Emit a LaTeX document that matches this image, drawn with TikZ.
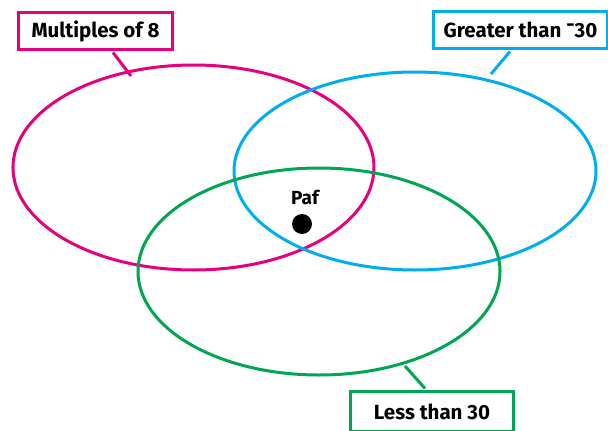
\documentclass[tikz,border=0pt]{standalone}
\usepackage{fontspec}
\setmainfont{Fira Sans}
\definecolor{vpink}{HTML}{E6007E}
\definecolor{vblue}{HTML}{00AEEF}
\definecolor{vgreen}{HTML}{00A651}
\begin{document}
\begin{tikzpicture}[x=1pt,y=-1pt,
  set/.style={line width=3pt},
  lab/.style={draw, line width=3pt, inner sep=0pt, font=\fontsize{20.5}{24}\selectfont\bfseries, anchor=north west},
  conn/.style={line width=3pt}]
\useasboundingbox[fill=white] (0,0) rectangle (608,431);
\draw[set, vpink] (193.5,167.5) ellipse [x radius=180.5, y radius=102.5];
\draw[set, vblue] (415,171) ellipse [x radius=181, y radius=99];
\draw[set, vgreen] (319,271.5) ellipse [x radius=181, y radius=103.5];
\node[lab, draw=vpink, fill=white, text=black, minimum width=154pt, minimum height=37pt] (pl) at (17,11) {Multiples of 8};
\node[lab, draw=vblue, fill=white, text=black, minimum width=174pt, minimum height=37pt] (bl) at (432,10) {Greater than \raisebox{0.55ex}{-}30};
\node[lab, draw=vgreen, fill=white, text=black, minimum width=163pt, minimum height=40pt] (gl) at (349,390) {Less than 30};
\coordinate (pe) at (131,76);
\coordinate (be) at (491,74);
\coordinate (ge) at (405,366);
\draw[conn, vpink] (pl.south west) ++(96,1.5) -- (pe);
\draw[conn, vblue] (bl.south west) ++(78,1.5) -- (be);
\draw[conn, vgreen] (gl.north west) ++(76,-1.5) -- (ge);
\node[font=\fontsize{19}{21}\selectfont\bfseries] (paf) at (305,197) {Paf};
\fill (302,224) circle [radius=10];
\end{tikzpicture}
\end{document}
